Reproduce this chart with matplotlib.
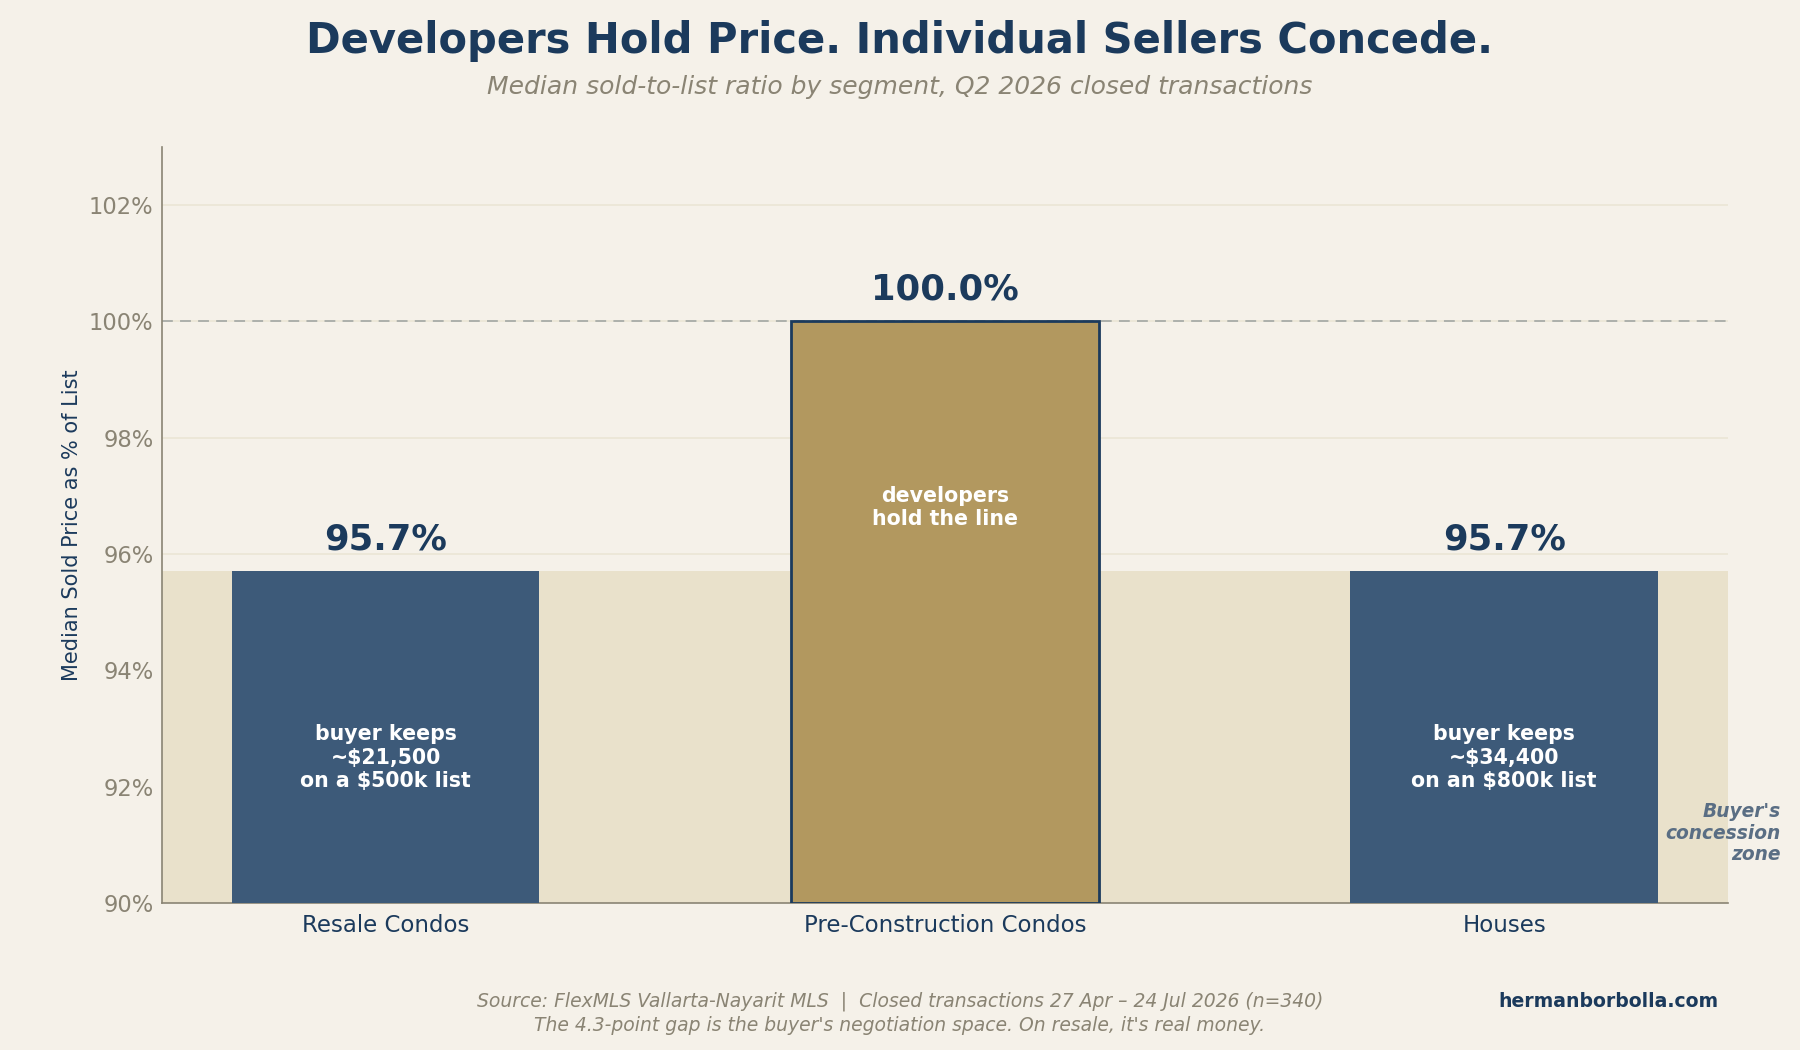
import matplotlib
matplotlib.use("Agg")
import matplotlib.pyplot as plt

# data
segments = ["Resale Condos", "Pre-Construction Condos", "Houses"]
ratios = [95.7, 100.0, 95.7]
inside_notes = ["buyer keeps\n~$21,500\non a $500k list",
                "developers\nhold the line",
                "buyer keeps\n~$34,400\non an $800k list"]
note_y = [92.5, 96.8, 92.5]
yticks = [90, 92, 94, 96, 98, 100, 102]

# colours
BG = "#f5f1e9"
ZONE = "#e9e1cb"
NAVY = "#1b3a5c"
BLUE = "#3d5a79"
GOLD = "#b2985f"
GREY = "#8a8474"

plt.rcParams['font.family'] = ['DejaVu Sans']

fig = plt.figure(figsize=(18, 10.5), dpi=100, facecolor=BG)
ax = fig.add_axes([0.09, 0.14, 0.8699, 0.7202])
ax.set_facecolor(BG)

ax.set_ylim(90, 103)
ax.set_xlim(-0.4, 2.4)

# grid + concession zone
ax.set_yticks(yticks)
ax.yaxis.grid(True, color="#ebe5d5", linewidth=1.2, zorder=0)
ax.set_axisbelow(True)
ax.axhspan(90, min(ratios), color=ZONE, zorder=1, linewidth=0)
ax.axhline(100, color="#a8aca8", linestyle=(0, (6, 4)), linewidth=1.3, zorder=2)

colors = [BLUE, GOLD, BLUE]
for i, (v, c) in enumerate(zip(ratios, colors)):
    if c == GOLD:
        ax.bar(i, v - 90, bottom=90, width=0.55, color=c,
               edgecolor=NAVY, linewidth=2, zorder=3)
    else:
        ax.bar(i, v - 90, bottom=90, width=0.55, color=c, zorder=3)
    ax.text(i, v + 0.26, f"{v:.1f}%", ha="center", va="bottom",
            fontsize=25.5, fontweight="bold", color=NAVY, zorder=4)
    ax.text(i, note_y[i], inside_notes[i], ha="center", va="center",
            fontsize=14.8, fontweight="bold", color="white",
            linespacing=1.22, zorder=4)

ax.text(1.034, 91.2, "Buyer's\nconcession\nzone", transform=ax.get_yaxis_transform(),
        ha="right", va="center", fontsize=13.4, fontweight="bold",
        fontstyle="italic", color="#5a6e84", linespacing=1.15)

ax.set_xticks(range(len(segments)))
ax.set_xticklabels(segments, fontsize=16.5, color=NAVY)
ax.set_yticklabels([f"{t}%" for t in yticks], fontsize=16.3, color=GREY)
ax.tick_params(axis="both", length=0)
ax.tick_params(axis="x", pad=8)
ax.tick_params(axis="y", pad=6)
ax.set_ylabel("Median Sold Price as % of List", fontsize=15, color=NAVY, labelpad=5)

for s in ["top", "right"]:
    ax.spines[s].set_visible(False)
for s in ["left", "bottom"]:
    ax.spines[s].set_color(GREY)
    ax.spines[s].set_linewidth(1.2)

# titles
fig.text(0.5, 0.961, "Developers Hold Price. Individual Sellers Concede.",
         ha="center", va="center", fontsize=30, fontweight="bold", color=NAVY)
fig.text(0.5, 0.917, "Median sold-to-list ratio by segment, Q2 2026 closed transactions",
         ha="center", va="center", fontsize=18, fontstyle="italic", color=GREY)

# footer
fig.text(0.5, 0.046,
         "Source: FlexMLS Vallarta-Nayarit MLS  |  Closed transactions 27 Apr \u2013 24 Jul 2026 (n=340)",
         ha="center", va="center", fontsize=13.5, fontstyle="italic", color=GREY)
fig.text(0.5, 0.023,
         "The 4.3-point gap is the buyer's negotiation space. On resale, it's real money.",
         ha="center", va="center", fontsize=13.5, fontstyle="italic", color=GREY)
fig.text(0.955, 0.046, "hermanborbolla.com", ha="right", va="center",
         fontsize=13.6, fontweight="bold", color=NAVY)

fig.savefig("out.png", dpi=100, facecolor=BG)
